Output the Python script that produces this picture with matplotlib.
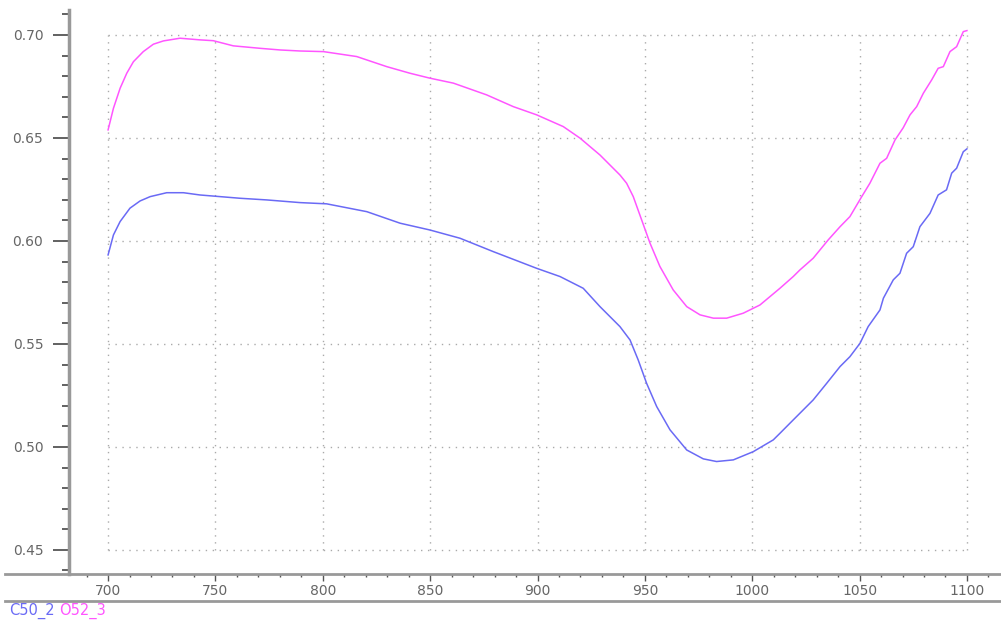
import numpy as np
import matplotlib.pyplot as plt
from matplotlib.lines import Line2D
from matplotlib.ticker import MultipleLocator

# Wavelength (nm) and reflectance for sample C50_2
wl_c50 = [700, 702.5, 705.6, 710.2, 714.9, 719.6, 727.3, 735.1, 742.8, 752.2,
          761.5, 773.9, 789.4, 801.8, 820.5, 836.0, 849.9, 863.9, 879.4, 899.6,
          910.5, 921.3, 929.1, 938.4, 943.1, 946.9, 950.8, 955.5, 961.7, 969.5,
          977.2, 983.4, 991.2, 1000.5, 1009.8, 1012.9, 1019.1, 1028.4, 1034.7,
          1040.9, 1045.5, 1050.2, 1054.0, 1059.5, 1061.1, 1065.7, 1068.8, 1071.9,
          1075.0, 1078.1, 1082.8, 1086.6, 1090.5, 1092.9, 1095.2, 1098.3, 1100]
r_c50 = [0.5932, 0.6029, 0.6094, 0.6159, 0.6194, 0.6215, 0.6234, 0.6234, 0.6223,
         0.6215, 0.6207, 0.6199, 0.6186, 0.6180, 0.6142, 0.6086, 0.6053, 0.6013,
         0.5948, 0.5867, 0.5827, 0.5770, 0.5681, 0.5584, 0.5519, 0.5422, 0.5309,
         0.5196, 0.5083, 0.4985, 0.4942, 0.4929, 0.4937, 0.4977, 0.5034, 0.5066,
         0.5131, 0.5228, 0.5309, 0.5390, 0.5438, 0.5503, 0.5584, 0.5665, 0.5722,
         0.5811, 0.5843, 0.5940, 0.5972, 0.6069, 0.6134, 0.6223, 0.6248, 0.6329,
         0.6353, 0.6433, 0.6447]

# Wavelength (nm) and reflectance for sample O52_3
wl_o52 = [700, 702.5, 705.6, 708.7, 711.8, 716.4, 721.1, 725.8, 733.5, 742.8,
          749.0, 758.3, 770.8, 780.1, 789.4, 800.3, 815.8, 829.8, 840.6, 849.9,
          860.8, 876.3, 888.7, 899.6, 912.0, 919.8, 929.1, 938.4, 941.5, 944.6,
          948.5, 952.4, 957.0, 963.2, 969.5, 975.7, 981.9, 988.1, 995.8, 1003.6,
          1012.9, 1019.1, 1022.2, 1028.4, 1035.4, 1040.9, 1045.5, 1051.0, 1054.8,
          1059.5, 1062.6, 1066.5, 1070.3, 1073.5, 1076.6, 1079.7, 1083.6, 1086.6,
          1089.0, 1092.1, 1095.2, 1098.3, 1100]
r_o52 = [0.6539, 0.6644, 0.6741, 0.6814, 0.6870, 0.6919, 0.6955, 0.6971, 0.6984,
         0.6976, 0.6972, 0.6947, 0.6935, 0.6927, 0.6922, 0.6919, 0.6895, 0.6846,
         0.6814, 0.6790, 0.6766, 0.6709, 0.6652, 0.6612, 0.6555, 0.6499, 0.6417,
         0.6320, 0.6280, 0.6215, 0.6102, 0.5989, 0.5876, 0.5762, 0.5681, 0.5641,
         0.5625, 0.5625, 0.5649, 0.5689, 0.5770, 0.5827, 0.5859, 0.5916, 0.6005,
         0.6069, 0.6118, 0.6215, 0.6280, 0.6377, 0.6401, 0.6490, 0.6549, 0.6612,
         0.6652, 0.6717, 0.6782, 0.6838, 0.6846, 0.6919, 0.6943, 0.7016, 0.7021]

x_ticks = [700, 750, 800, 850, 900, 950, 1000, 1050, 1100]
y_ticks = [0.45, 0.50, 0.55, 0.60, 0.65, 0.70]

blue = '#6a6af5'
pink = '#ff55ff'

fig = plt.figure(figsize=(10.01, 6.24), dpi=100)
ax = fig.add_axes([69 / 1001, 50 / 624, 931 / 1001, 564 / 624])

# dotted grid only over the data range
ax.vlines(x_ticks, 0.45, 0.70, colors='#aaaaaa', linestyles=(0, (1, 4)), lw=1)
ax.hlines(y_ticks, 700, 1100, colors='#aaaaaa', linestyles=(0, (1, 4)), lw=1)

ax.plot(wl_c50, r_c50, color=blue, lw=1.1)
ax.plot(wl_o52, r_o52, color=pink, lw=1.1)

ax.set_xlim(681.8, 1115.4)
ax.set_ylim(0.4383, 0.7121)

ax.set_xticks(x_ticks)
ax.set_yticks(y_ticks)
ax.set_yticklabels(['%.2f' % v for v in y_ticks])
ax.xaxis.set_minor_locator(MultipleLocator(10))
ax.yaxis.set_minor_locator(MultipleLocator(0.01))

ax.tick_params(axis='y', which='major', length=11.5, width=1.3, color='#555555',
               labelsize=10, labelcolor='#666666', pad=7)
ax.tick_params(axis='y', which='minor', length=5, width=1.3, color='#555555')
ax.tick_params(axis='x', which='major', length=5, width=1, color='#555555',
               labelsize=10, labelcolor='#666666', pad=2)
ax.tick_params(axis='x', which='minor', length=2, width=1, color='#555555')

for s in ['top', 'right']:
    ax.spines[s].set_visible(False)
ax.spines['left'].set_color('#999999')
ax.spines['left'].set_linewidth(2.5)
ax.spines['bottom'].set_visible(False)

# baseline and separator lines across the whole window
fig.add_artist(Line2D([5 / 1001, 1000 / 1001], [50 / 624, 50 / 624],
                      color='#999999', lw=2))
fig.add_artist(Line2D([5 / 1001, 1000 / 1001], [23 / 624, 23 / 624],
                      color='#999999', lw=2))

fig.text(9 / 1001, 13 / 624, 'C50_2', color=blue, fontsize=10.5, va='center')
fig.text(59 / 1001, 13 / 624, 'O52_3', color=pink, fontsize=10.5, va='center')

fig.savefig('out.png', dpi=100)
